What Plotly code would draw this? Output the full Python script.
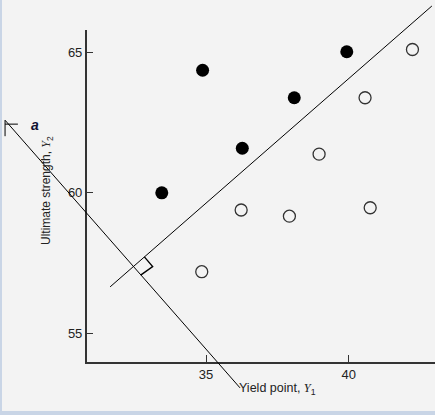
import plotly.graph_objects as go

# ---- data ----
group1_x = [33.45, 34.88, 36.27, 38.09, 39.93]          # filled circles
group1_y = [60.00, 64.37, 61.59, 63.39, 65.03]
group2_x = [34.85, 36.23, 37.92, 38.96, 40.57, 40.75, 42.23]  # open circles
group2_y = [57.19, 59.39, 59.17, 61.38, 63.39, 59.47, 65.11]

sep_x = [31.64, 42.91]        # separating line
sep_y = [56.65, 66.66]
proj_x = [27.96, 36.19]       # discriminant projection axis "a"
proj_y = [62.59, 53.05]
tee_h_x = [27.96, 28.41]
tee_h_y = [62.45, 62.45]
tee_v_x = [27.96, 27.96]
tee_v_y = [62.59, 62.02]
right_angle_x = [32.84, 33.13, 32.71]
right_angle_y = [57.72, 57.37, 57.07]

x_ticks = [35, 40]
y_ticks = [55, 60, 65]

# ---- layout geometry ----
W, H = 435, 415
x_range = [30.82, 43.02]
y_range = [53.99, 65.805]
x_dom = [86.7 / W, 1.0]
y_dom = [(H - 361.5) / H, (H - 30) / H]

# second (invisible) axis pair covering the whole figure with identical scale
xs = (x_range[1] - x_range[0]) / (x_dom[1] - x_dom[0])
ys = (y_range[1] - y_range[0]) / (y_dom[1] - y_dom[0])
x2_range = [x_range[0] - x_dom[0] * xs, x_range[1] + (1 - x_dom[1]) * xs]
y2_range = [y_range[0] - y_dom[0] * ys, y_range[1] + (1 - y_dom[1]) * ys]

ink = "#222222"
fig = go.Figure()

fig.add_trace(go.Scatter(x=group1_x, y=group1_y, mode="markers",
                         marker=dict(size=13, color="black", line=dict(width=0)),
                         showlegend=False))
fig.add_trace(go.Scatter(x=group2_x, y=group2_y, mode="markers",
                         marker=dict(size=12, color="rgba(0,0,0,0)",
                                     line=dict(color="#333333", width=1.3)),
                         showlegend=False))

line_style = dict(color="black", width=1)
for lx, ly in [(sep_x, sep_y), (proj_x, proj_y), (tee_h_x, tee_h_y), (tee_v_x, tee_v_y)]:
    fig.add_trace(go.Scatter(x=lx, y=ly, mode="lines", line=line_style,
                             xaxis="x2", yaxis="y2", showlegend=False, hoverinfo="skip"))
fig.add_trace(go.Scatter(x=right_angle_x, y=right_angle_y, mode="lines",
                         line=dict(color="black", width=1.4),
                         xaxis="x2", yaxis="y2", showlegend=False, hoverinfo="skip"))

axis_common = dict(showgrid=False, zeroline=False, showline=True, linecolor="#333333",
                   linewidth=1.5, ticks="inside", ticklen=7, tickwidth=1, tickcolor="#333333",
                   tickfont=dict(family="Liberation Sans, Arial", size=13, color=ink),
                   automargin=False, fixedrange=True)

fig.update_layout(
    width=W, height=H,
    margin=dict(l=0, r=0, t=0, b=0),
    paper_bgcolor="#f3f3f3", plot_bgcolor="rgba(0,0,0,0)",
    xaxis=dict(range=x_range, domain=x_dom, anchor="y", tickvals=x_ticks, **axis_common),
    yaxis=dict(range=y_range, domain=y_dom, anchor="x", tickvals=y_ticks, **axis_common),
    xaxis2=dict(range=x2_range, domain=[0, 1], anchor="y2", visible=False, fixedrange=True),
    yaxis2=dict(range=y2_range, domain=[0, 1], anchor="x2", visible=False, fixedrange=True),
    shapes=[
        dict(type="rect", xref="paper", yref="paper", x0=0, x1=1, y0=0, y1=4 / H,
             fillcolor="#c9d5e6", line=dict(width=0), layer="below"),
        dict(type="rect", xref="paper", yref="paper", x0=0, x1=2 / W, y0=0, y1=1,
             fillcolor="#c9d5e6", line=dict(width=0), layer="below"),
    ],
    annotations=[
        dict(text="Ultimate strength, <span style='font-family:Liberation Serif'><i>Y</i></span><sub>2</sub>",
             xref="paper", yref="paper", x=47 / W, y=1 - 191 / H, textangle=-90,
             showarrow=False, font=dict(family="Liberation Sans, Arial", size=12, color=ink),
             xanchor="center", yanchor="middle"),
        dict(text="Yield point, <span style='font-family:Liberation Serif'><i>Y</i></span><sub>1</sub>",
             xref="paper", yref="paper", x=237 / W, y=1 - 389 / H,
             showarrow=False, font=dict(family="Liberation Sans, Arial", size=12.5, color=ink),
             xanchor="left", yanchor="middle"),
        dict(text="<b><i>a</i></b>", xref="paper", yref="paper", x=35 / W, y=1 - 125 / H,
             showarrow=False, font=dict(family="Liberation Sans, Arial", size=14, color="#111133"),
             xanchor="center", yanchor="middle"),
    ],
)

fig.write_html(
    "out.html",
    config={"displayModeBar": False},
    post_script="document.body.style.margin='0';document.body.style.background='#f3f3f3';",
)
